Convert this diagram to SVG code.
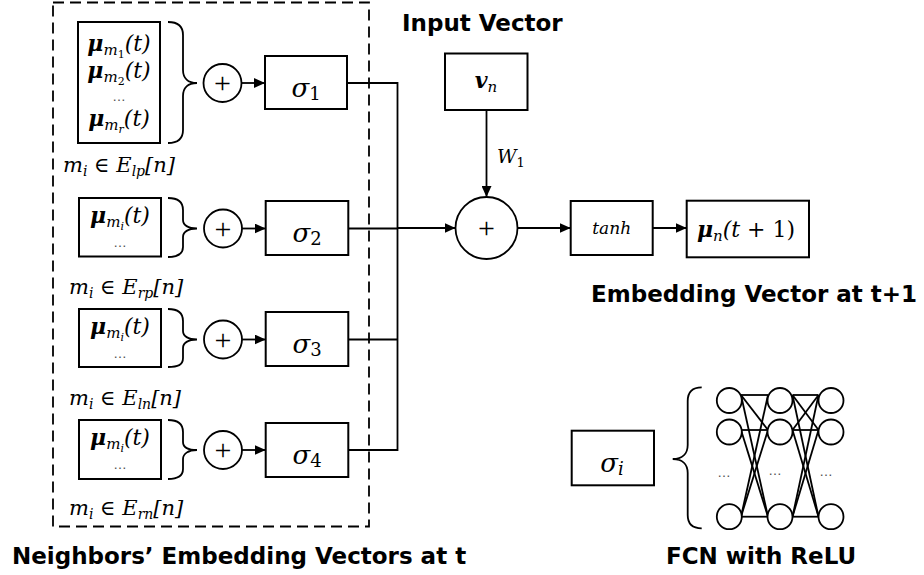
<svg xmlns="http://www.w3.org/2000/svg" width="924" height="575" viewBox="0 0 924 575">
<style>
.box{fill:#fff;stroke:#000;stroke-width:2}
.ln{fill:none;stroke:#000;stroke-width:1.8}
.br{fill:none;stroke:#000;stroke-width:1.8}
.nn{fill:#fff;stroke:#000;stroke-width:1.8}
.m{font-family:"DejaVu Serif","Liberation Serif",serif;font-style:italic;fill:#000}
.b{font-weight:bold}
.pl{font-family:"Liberation Serif",serif;font-size:30px;fill:#000}
.dots{font-family:"DejaVu Sans",sans-serif;font-size:13px;fill:#555}
.lbl{font-family:"DejaVu Sans",Verdana,sans-serif;font-weight:bold;font-size:23px;fill:#000}
</style>
<defs>
<marker id="ah" markerUnits="userSpaceOnUse" markerWidth="12" markerHeight="10" refX="11" refY="5" orient="auto">
<path d="M0,0 L11,5 L0,10 z" fill="#000"/>
</marker>
</defs>

<rect x="53" y="2.5" width="316" height="524" fill="none" stroke="#000" stroke-width="1.8" stroke-dasharray="11 6"/>

<text class="lbl" x="402" y="31">Input Vector</text>
<text class="lbl" x="591" y="302">Embedding Vector at t+1</text>
<text class="lbl" x="12" y="564">Neighbors’ Embedding Vectors at t</text>
<text class="lbl" x="666" y="564">FCN with ReLU</text>

<g id="connectors">
<line class="ln" x1="241.5" y1="83" x2="265" y2="83" marker-end="url(#ah)"/>
<line class="ln" x1="242" y1="228.5" x2="265.7" y2="228.5" marker-end="url(#ah)"/>
<line class="ln" x1="242" y1="339.5" x2="265.7" y2="339.5" marker-end="url(#ah)"/>
<line class="ln" x1="242" y1="450" x2="265.7" y2="450" marker-end="url(#ah)"/>
<polyline class="ln" points="347,83 397.5,83 397.5,450 348.3,450"/>
<line class="ln" x1="348.3" y1="228.5" x2="397.5" y2="228.5"/>
<line class="ln" x1="348.3" y1="339.5" x2="397.5" y2="339.5"/>
<line class="ln" x1="397.5" y1="228" x2="455.5" y2="228" marker-end="url(#ah)"/>
<line class="ln" x1="486.5" y1="110" x2="486.5" y2="197" marker-end="url(#ah)"/>
<line class="ln" x1="517.5" y1="228" x2="570.7" y2="228" marker-end="url(#ah)"/>
<line class="ln" x1="652.7" y1="228" x2="686.7" y2="228" marker-end="url(#ah)"/>
</g>

<g id="group-lp">
<rect class="box" x="78" y="22" width="82" height="121"/>
<text class="m" x="119" y="51" font-size="22" text-anchor="middle"><tspan class="b">μ</tspan><tspan font-size="15" dy="4">m</tspan><tspan font-size="11" dy="3" font-style="normal">1</tspan><tspan dy="-7">(t)</tspan></text>
<text class="m" x="119" y="78" font-size="22" text-anchor="middle"><tspan class="b">μ</tspan><tspan font-size="15" dy="4">m</tspan><tspan font-size="11" dy="3" font-style="normal">2</tspan><tspan dy="-7">(t)</tspan></text>
<text class="dots" x="119" y="101" text-anchor="middle">…</text>
<text class="m" x="119" y="126" font-size="22" text-anchor="middle"><tspan class="b">μ</tspan><tspan font-size="15" dy="4">m</tspan><tspan font-size="11" dy="3">r</tspan><tspan dy="-7">(t)</tspan></text>
<path class="br" d="M168,22 C178,22 183,26 183,35 L183,70 C183,78 188,83 197,83 C188,83 183,88 183,96 L183,130 C183,139 178,143 168,143"/>
<circle class="nn" cx="222.5" cy="83" r="19"/>
<text class="pl" x="222.5" y="93" text-anchor="middle">+</text>
<rect class="box" x="265" y="56" width="82" height="53"/>
<text class="m" x="306" y="97" font-size="26" text-anchor="middle">σ<tspan font-size="18" dy="3" font-style="normal">1</tspan></text>
<text class="m" x="63" y="172" font-size="21">m<tspan font-size="14" dy="4">i</tspan><tspan dy="-4"> ∈ E</tspan><tspan font-size="14" dy="4">lp</tspan><tspan dy="-4">[n]</tspan></text>
</g>

<g id="group-rp">
<rect class="box" x="79" y="198" width="82" height="58.5"/>
<text class="m" x="120" y="223" font-size="22" text-anchor="middle"><tspan class="b">μ</tspan><tspan font-size="15" dy="4">m</tspan><tspan font-size="11" dy="3">i</tspan><tspan dy="-7">(t)</tspan></text>
<text class="dots" x="120" y="247" text-anchor="middle">…</text>
<path class="br" d="M168,198 C178,198 183,202 183,210 L183,220 C183,225 188,228.5 197,228.5 C188,228.5 183,232 183,237 L183,247 C183,254 178,257 168,257"/>
<circle class="nn" cx="223" cy="228.5" r="19"/>
<text class="pl" x="223" y="238.5" text-anchor="middle">+</text>
<rect class="box" x="265.7" y="201" width="82.6" height="54"/>
<text class="m" x="307" y="242" font-size="26" text-anchor="middle">σ<tspan font-size="18" dy="3" font-style="normal">2</tspan></text>
<text class="m" x="69" y="294" font-size="21">m<tspan font-size="14" dy="4">i</tspan><tspan dy="-4"> ∈ E</tspan><tspan font-size="14" dy="4">rp</tspan><tspan dy="-4">[n]</tspan></text>
</g>

<g id="group-ln">
<rect class="box" x="79" y="309" width="82" height="58"/>
<text class="m" x="120" y="334" font-size="22" text-anchor="middle"><tspan class="b">μ</tspan><tspan font-size="15" dy="4">m</tspan><tspan font-size="11" dy="3">i</tspan><tspan dy="-7">(t)</tspan></text>
<text class="dots" x="120" y="358" text-anchor="middle">…</text>
<path class="br" d="M168,309 C178,309 183,313 183,321 L183,331 C183,336 188,339.5 197,339.5 C188,339.5 183,343 183,348 L183,358 C183,365 178,367 168,367"/>
<circle class="nn" cx="223" cy="339.5" r="19"/>
<text class="pl" x="223" y="349.5" text-anchor="middle">+</text>
<rect class="box" x="265.7" y="312" width="82.6" height="54"/>
<text class="m" x="307" y="353" font-size="26" text-anchor="middle">σ<tspan font-size="18" dy="3" font-style="normal">3</tspan></text>
<text class="m" x="69" y="405" font-size="21">m<tspan font-size="14" dy="4">i</tspan><tspan dy="-4"> ∈ E</tspan><tspan font-size="14" dy="4">ln</tspan><tspan dy="-4">[n]</tspan></text>
</g>

<g id="group-rn">
<rect class="box" x="79" y="420" width="82" height="59"/>
<text class="m" x="120" y="445" font-size="22" text-anchor="middle"><tspan class="b">μ</tspan><tspan font-size="15" dy="4">m</tspan><tspan font-size="11" dy="3">i</tspan><tspan dy="-7">(t)</tspan></text>
<text class="dots" x="120" y="469" text-anchor="middle">…</text>
<path class="br" d="M168,420 C178,420 183,424 183,432 L183,442 C183,447 188,450 197,450 C188,450 183,454 183,459 L183,469 C183,476 178,479 168,479"/>
<circle class="nn" cx="223" cy="450" r="19"/>
<text class="pl" x="223" y="460" text-anchor="middle">+</text>
<rect class="box" x="265.7" y="423" width="82.6" height="54"/>
<text class="m" x="307" y="464" font-size="26" text-anchor="middle">σ<tspan font-size="18" dy="3" font-style="normal">4</tspan></text>
<text class="m" x="69" y="515" font-size="21">m<tspan font-size="14" dy="4">i</tspan><tspan dy="-4"> ∈ E</tspan><tspan font-size="14" dy="4">rn</tspan><tspan dy="-4">[n]</tspan></text>
</g>

<g id="input-vector">
<rect class="box" x="445" y="53.5" width="82.5" height="56.5"/>
<text class="m" x="486" y="88" font-size="22" text-anchor="middle"><tspan class="b">v</tspan><tspan font-size="15" dy="4">n</tspan></text>
<text class="m" x="497" y="163" font-size="19">W<tspan font-size="13" dy="4" font-style="normal">1</tspan></text>
</g>

<g id="sum">
<circle class="nn" cx="486.5" cy="228" r="31"/>
<text class="pl" x="486.5" y="238" text-anchor="middle">+</text>
</g>

<g id="tanh">
<rect class="box" x="570.7" y="201" width="82" height="54"/>
<text class="m" x="611.7" y="234" font-size="17" text-anchor="middle">tanh</text>
</g>

<g id="output">
<rect class="box" x="686.7" y="200.7" width="122.3" height="56.6"/>
<text class="m" x="746" y="237" font-size="22" text-anchor="middle"><tspan class="b">μ</tspan><tspan font-size="15" dy="4">n</tspan><tspan dy="-4">(t + </tspan><tspan font-style="normal">1)</tspan></text>
</g>

<g id="sigma-i">
<rect class="box" x="571.7" y="430.7" width="82.3" height="54.6"/>
<text class="m" x="612" y="472" font-size="26" text-anchor="middle">σ<tspan font-size="18" dy="3">i</tspan></text>
</g>

<g id="fcn">
<path class="br" d="M701.7,387.3 C692,387.3 687.7,392 687.7,401 L687.7,445 C687.7,454 682,459 672.7,459 C682,459 687.7,464 687.7,473 L687.7,515 C687.7,524 692,528.3 701.7,528.3"/>
<g class="ln">
<line x1="741" y1="395" x2="768" y2="395"/>
<line x1="741" y1="395" x2="768" y2="430"/>
<line x1="741" y1="395" x2="768" y2="516.7"/>
<line x1="741" y1="430" x2="768" y2="430"/>
<line x1="741" y1="430" x2="768" y2="516.7"/>
<line x1="741" y1="516.7" x2="768" y2="395"/>
<line x1="741" y1="516.7" x2="768" y2="430"/>
<line x1="741" y1="516.7" x2="768" y2="516.7"/>
<line x1="792.5" y1="395" x2="818.5" y2="395"/>
<line x1="792.5" y1="395" x2="818.5" y2="430"/>
<line x1="792.5" y1="395" x2="818.5" y2="516.7"/>
<line x1="792.5" y1="430" x2="818.5" y2="395"/>
<line x1="792.5" y1="430" x2="818.5" y2="430"/>
<line x1="792.5" y1="430" x2="818.5" y2="516.7"/>
<line x1="792.5" y1="516.7" x2="818.5" y2="395"/>
<line x1="792.5" y1="516.7" x2="818.5" y2="430"/>
<line x1="792.5" y1="516.7" x2="818.5" y2="516.7"/>
</g>
<circle class="nn" cx="729.3" cy="400.5" r="12.5"/>
<circle class="nn" cx="729.3" cy="432" r="12.5"/>
<circle class="nn" cx="729.3" cy="516.7" r="12.5"/>
<circle class="nn" cx="780" cy="400.5" r="12.5"/>
<circle class="nn" cx="780" cy="432" r="12.5"/>
<circle class="nn" cx="780" cy="516.7" r="12.5"/>
<circle class="nn" cx="831" cy="400.5" r="12.5"/>
<circle class="nn" cx="831" cy="432" r="12.5"/>
<circle class="nn" cx="831" cy="516.7" r="12.5"/>
<text class="dots" x="724" y="477" text-anchor="middle">…</text>
<text class="dots" x="775" y="475" text-anchor="middle">…</text>
<text class="dots" x="826" y="476" text-anchor="middle">…</text>
</g>
</svg>
